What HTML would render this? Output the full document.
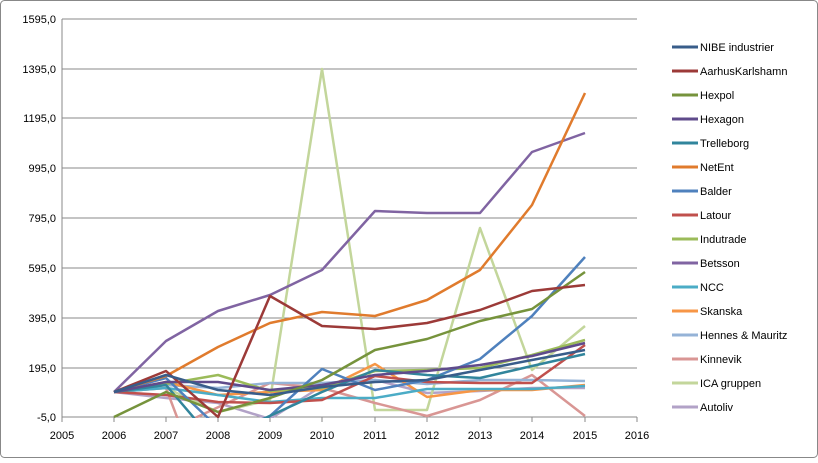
<!DOCTYPE html>
<html><head><style>body{margin:0;background:#fff}</style></head><body>
<svg width="818" height="458" xmlns="http://www.w3.org/2000/svg" font-family="Liberation Sans, sans-serif" font-size="11">
<rect x="0.5" y="0.5" width="817" height="457" rx="4" fill="#fff" stroke="#888"/>
<defs><clipPath id="c"><rect x="62" y="18" width="576" height="400"/></clipPath></defs>
<g stroke="#888" stroke-width="1">
<line x1="62" y1="19" x2="637" y2="19"/><line x1="62" y1="69" x2="637" y2="69"/><line x1="62" y1="118" x2="637" y2="118"/><line x1="62" y1="168" x2="637" y2="168"/><line x1="62" y1="218" x2="637" y2="218"/><line x1="62" y1="268" x2="637" y2="268"/><line x1="62" y1="318" x2="637" y2="318"/><line x1="62" y1="368" x2="637" y2="368"/><line x1="62" y1="417" x2="637" y2="417"/>
<line x1="62" y1="19" x2="62" y2="417"/>
<path d="M62 417v5M114 417v5M166 417v5M218 417v5M270 417v5M322 417v5M375 417v5M427 417v5M480 417v5M532 417v5M585 417v5M637 417v5"/>
</g>
<g text-anchor="end" fill="#000">
<text x="56" y="23">1595,0</text><text x="56" y="73">1395,0</text><text x="56" y="122">1195,0</text><text x="56" y="172">995,0</text><text x="56" y="222">795,0</text><text x="56" y="272">595,0</text><text x="56" y="322">395,0</text><text x="56" y="372">195,0</text><text x="56" y="421">-5,0</text>
</g>
<g text-anchor="middle"><text x="62" y="439">2005</text><text x="114" y="439">2006</text><text x="166" y="439">2007</text><text x="218" y="439">2008</text><text x="270" y="439">2009</text><text x="322" y="439">2010</text><text x="375" y="439">2011</text><text x="427" y="439">2012</text><text x="480" y="439">2013</text><text x="532" y="439">2014</text><text x="585" y="439">2015</text><text x="637" y="439">2016</text></g>
<g clip-path="url(#c)" fill="none" stroke-width="2.5" stroke-linejoin="round">
<polyline stroke="#b2a2c7" points="114,392 166,398 218,403 270,419 322,386 375,380 427,393 480,391 532,388 585,388"/>
<polyline stroke="#c3d69b" points="114,392 166,388 218,412 270,400 322,69 375,410 427,410 480,228 532,370 585,326"/>
<polyline stroke="#d99694" points="114,392 166,388 180,425 270,383 322,388 375,403 427,416 480,400 532,375 585,416"/>
<polyline stroke="#95b3d7" points="114,392 166,385 218,388 270,383 322,383 375,380 427,384 480,380 532,380 585,381"/>
<polyline stroke="#f79646" points="114,392 166,382 218,395 270,392 322,390 375,364 427,397 480,390 532,390 585,385"/>
<polyline stroke="#4bacc6" points="114,392 166,388 218,395 270,402 322,398 375,398 427,389 480,389 532,389 585,386"/>
<polyline stroke="#8064a2" points="114,392 166,341 218,311 270,295 322,270 375,211 427,213 480,213 532,152 585,133"/>
<polyline stroke="#9bbb59" points="114,392 166,384 218,375 270,391 322,388 375,371 427,370 480,368 532,355 585,340"/>
<polyline stroke="#c0504d" points="114,392 166,395 218,402 270,403 322,400 375,376 427,382 480,383 532,383 585,345"/>
<polyline stroke="#4f81bd" points="114,392 166,378 210,420 260,425 322,369 375,390 427,380 480,359 532,316 585,257"/>
<polyline stroke="#e07b2d" points="114,392 166,376 218,347 270,323 322,312 375,316 427,300 480,270 532,205 585,93"/>
<polyline stroke="#31859c" points="114,392 166,385 200,425 250,425 322,392 375,370 427,375 480,378 532,366 585,354"/>
<polyline stroke="#5f4b8b" points="114,392 166,382 218,382 270,390 322,385 375,375 427,371 480,365 532,356 585,343"/>
<polyline stroke="#76933c" points="114,417 166,392 218,412 270,398 322,380 375,350 427,339 480,321 532,309 585,272"/>
<polyline stroke="#9c3a38" points="114,392 166,371 218,417 270,296 322,326 375,329 427,323 480,310 532,291 585,285"/>
<polyline stroke="#385d8a" points="114,392 166,375 218,390 270,395 322,387 375,382 427,380 480,370 532,360 585,350"/>
</g>
<g stroke-width="3">
<line x1="672" y1="47" x2="698" y2="47" stroke="#385d8a"/><line x1="672" y1="71" x2="698" y2="71" stroke="#9c3a38"/><line x1="672" y1="95" x2="698" y2="95" stroke="#76933c"/><line x1="672" y1="119" x2="698" y2="119" stroke="#5f4b8b"/><line x1="672" y1="143" x2="698" y2="143" stroke="#31859c"/><line x1="672" y1="167" x2="698" y2="167" stroke="#e07b2d"/><line x1="672" y1="191" x2="698" y2="191" stroke="#4f81bd"/><line x1="672" y1="215" x2="698" y2="215" stroke="#c0504d"/><line x1="672" y1="239" x2="698" y2="239" stroke="#9bbb59"/><line x1="672" y1="263" x2="698" y2="263" stroke="#8064a2"/><line x1="672" y1="287" x2="698" y2="287" stroke="#4bacc6"/><line x1="672" y1="311" x2="698" y2="311" stroke="#f79646"/><line x1="672" y1="335" x2="698" y2="335" stroke="#95b3d7"/><line x1="672" y1="359" x2="698" y2="359" stroke="#d99694"/><line x1="672" y1="383" x2="698" y2="383" stroke="#c3d69b"/><line x1="672" y1="407" x2="698" y2="407" stroke="#b2a2c7"/>
</g>
<g>
<text x="700" y="51">NIBE industrier</text><text x="700" y="75">AarhusKarlshamn</text><text x="700" y="99">Hexpol</text><text x="700" y="123">Hexagon</text><text x="700" y="147">Trelleborg</text><text x="700" y="171">NetEnt</text><text x="700" y="195">Balder</text><text x="700" y="219">Latour</text><text x="700" y="243">Indutrade</text><text x="700" y="267">Betsson</text><text x="700" y="291">NCC</text><text x="700" y="315">Skanska</text><text x="700" y="339">Hennes &amp; Mauritz</text><text x="700" y="363">Kinnevik</text><text x="700" y="387">ICA gruppen</text><text x="700" y="411">Autoliv</text>
</g>
</svg>
</body></html>
